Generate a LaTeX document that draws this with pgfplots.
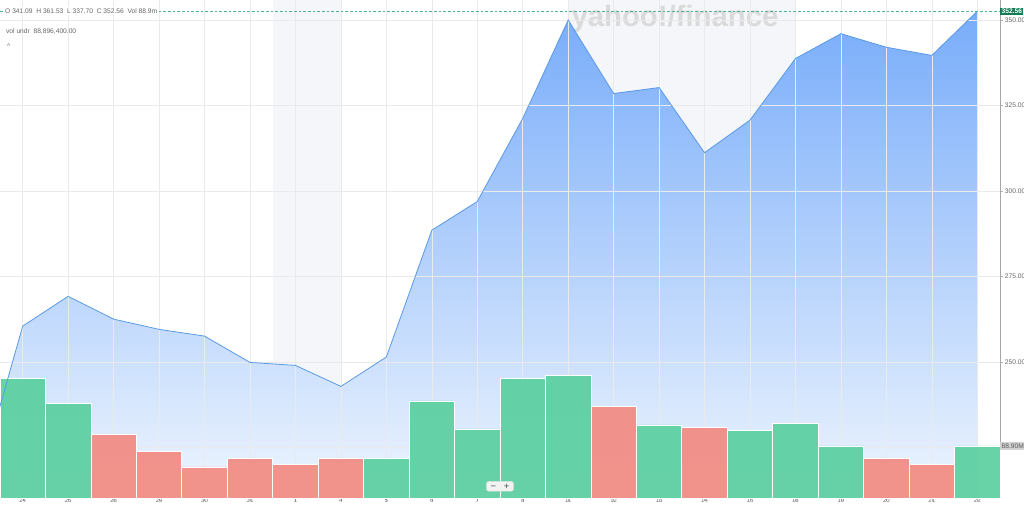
\documentclass[border=0pt]{standalone}
\usepackage{fontspec}
\setmainfont{Liberation Sans}
\usepackage{pgfplots}
\pgfplotsset{compat=1.18}
\definecolor{upgreen}{HTML}{5BCF9F}
\definecolor{downred}{HTML}{F28B82}
\definecolor{lineblue}{HTML}{5A9AE6}
\definecolor{filltop}{HTML}{78ACFA}
\definecolor{fillbot}{HTML}{EEF5FE}
\definecolor{bandgray}{HTML}{F4F6F9}
\definecolor{gridgray}{HTML}{EAEAEA}
\definecolor{labgray}{HTML}{666666}
\definecolor{lastgreen}{HTML}{157A54}
\definecolor{dashgreen}{HTML}{4FB394}
\definecolor{wmgray}{HTML}{DADADA}

\pgfplotstableread{
x y
-1 213.65
0 260.48
1 269.19
2 262.51
3 259.52
4 257.55
5 249.85
6 248.98
7 242.84
8 251.44
9 288.53
10 296.91
11 321.22
12 350.00
13 328.49
14 330.24
15 311.18
16 320.72
17 338.74
18 346.00
19 342.03
20 339.64
21 352.56
}\price

\pgfplotstableread{
x v
0 205
1 162
8 68
9 166
10 118
11 205
12 210
14 125
16 115
17 127
18 89
21 88.9
}\volup

\pgfplotstableread{
x v
2 108
3 80
4 53
5 67
6 58
7 68
13 156
15 120
19 67
20 58
}\voldown

\pgfplotsset{
  common/.style={
    at={(0,0)}, anchor=south west, scale only axis,
    width=750pt, height=373.5pt,
    xmin=-0.5, xmax=21.5,
  },
}

\begin{document}
\begin{tikzpicture}[font=\fontsize{5}{6}\selectfont]
\path[use as bounding box] (0,-5.25pt) rectangle (768pt,373.5pt);

% price area, grid and axes
\begin{axis}[common,
  ymin=210.2, ymax=355.85,
  axis x line*=bottom, axis y line*=right,
  axis line style={draw=gray!70, line width=0.5pt},
  xtick={0,...,21},
  xticklabels={24,25,28,29,30,31,1,4,5,6,7,8,11,12,13,14,15,18,19,20,21,22},
  ytick={225,250,275,300,325,350},
  yticklabels={,250.00,275.00,300.00,325.00,350.00},
  tick align=outside,
  major tick length=2pt,
  tick style={draw=gray!60, line width=0.3pt},
  ticklabel style={text=labgray, font=\fontsize{5}{6}\selectfont},
  yticklabel style={inner sep=1pt, xshift=0.5pt},
  xticklabel style={inner sep=0pt, yshift=1.8pt, font=\fontsize{4.5}{5}\selectfont},
  grid=major,
  grid style={draw=gridgray, line width=0.4pt},
  axis on top,
  clip=true,
]
\fill[bandgray] (axis cs:5.5,210.2) rectangle (axis cs:7,355.85);
\fill[bandgray] (axis cs:12,210.2) rectangle (axis cs:17,355.85);
\node[text=wmgray, font=\fontsize{22}{22}\bfseries, inner sep=0pt]
  at (axis cs:14.35,350.3) {yahoo!/finance};
\addplot[draw=none, top color=filltop, bottom color=fillbot]
  table[x=x, y=y] {\price} -- (axis cs:21,210.2) -- (axis cs:-1,210.2) -- cycle;
\end{axis}

% volume bars
\begin{axis}[common,
  ymin=0, ymax=851,
  hide axis,
  ybar, bar width=34.09pt,
  clip=false,
]
\addplot[bar shift=0pt, fill=upgreen, fill opacity=0.92, draw=white, line width=0.5pt]
  table[x=x, y=v] {\volup};
\addplot[bar shift=0pt, fill=downred, fill opacity=0.92, draw=white, line width=0.5pt]
  table[x=x, y=v] {\voldown};
\node[anchor=west, fill=gray!35, text=black!65, inner sep=1pt,
  font=\fontsize{5}{6}\selectfont] at (axis cs:21.5,88.9) {88.90M};
\end{axis}

% price line and labels
\begin{axis}[common,
  ymin=210.2, ymax=355.85,
  hide axis,
  clip=false,
]
\begin{scope}
\clip (axis cs:-0.5,210.2) rectangle (axis cs:21.5,355.85);
\addplot[color=lineblue, line width=0.6pt] table[x=x, y=y] {\price};
\end{scope}
\draw[dashgreen, dash pattern=on 2pt off 1.5pt, line width=0.4pt]
  (axis cs:-0.5,352.56) -- (axis cs:21.5,352.56);
\node[anchor=west, fill=lastgreen, text=white, inner sep=1pt,
  font=\fontsize{5}{6}\selectfont\bfseries] at (axis cs:21.5,352.56) {352.56};
\node[anchor=west, fill=white, text=labgray, inner sep=1pt]
  at (axis cs:-0.42,352.56) {O 341.09\ \ H 361.53\ \ L 337.70\ \ C 352.56\ \ Vol 88.9m};
\node[anchor=west, text=labgray, inner sep=1pt]
  at (axis cs:-0.40,346.7) {vol undr\ \ 88,896,400.00};
\node[anchor=west, text=labgray, inner sep=1pt]
  at (axis cs:-0.38,342.4) {\textasciicircum};
\node[fill=gray!10, draw=gray!20, rounded corners=1pt, text=black!70,
  inner xsep=3pt, inner ysep=1.5pt, font=\fontsize{7}{7}\selectfont]
  at (axis cs:10.5,213.6) {−\ \ \ +};
\end{axis}
\end{tikzpicture}
\end{document}
